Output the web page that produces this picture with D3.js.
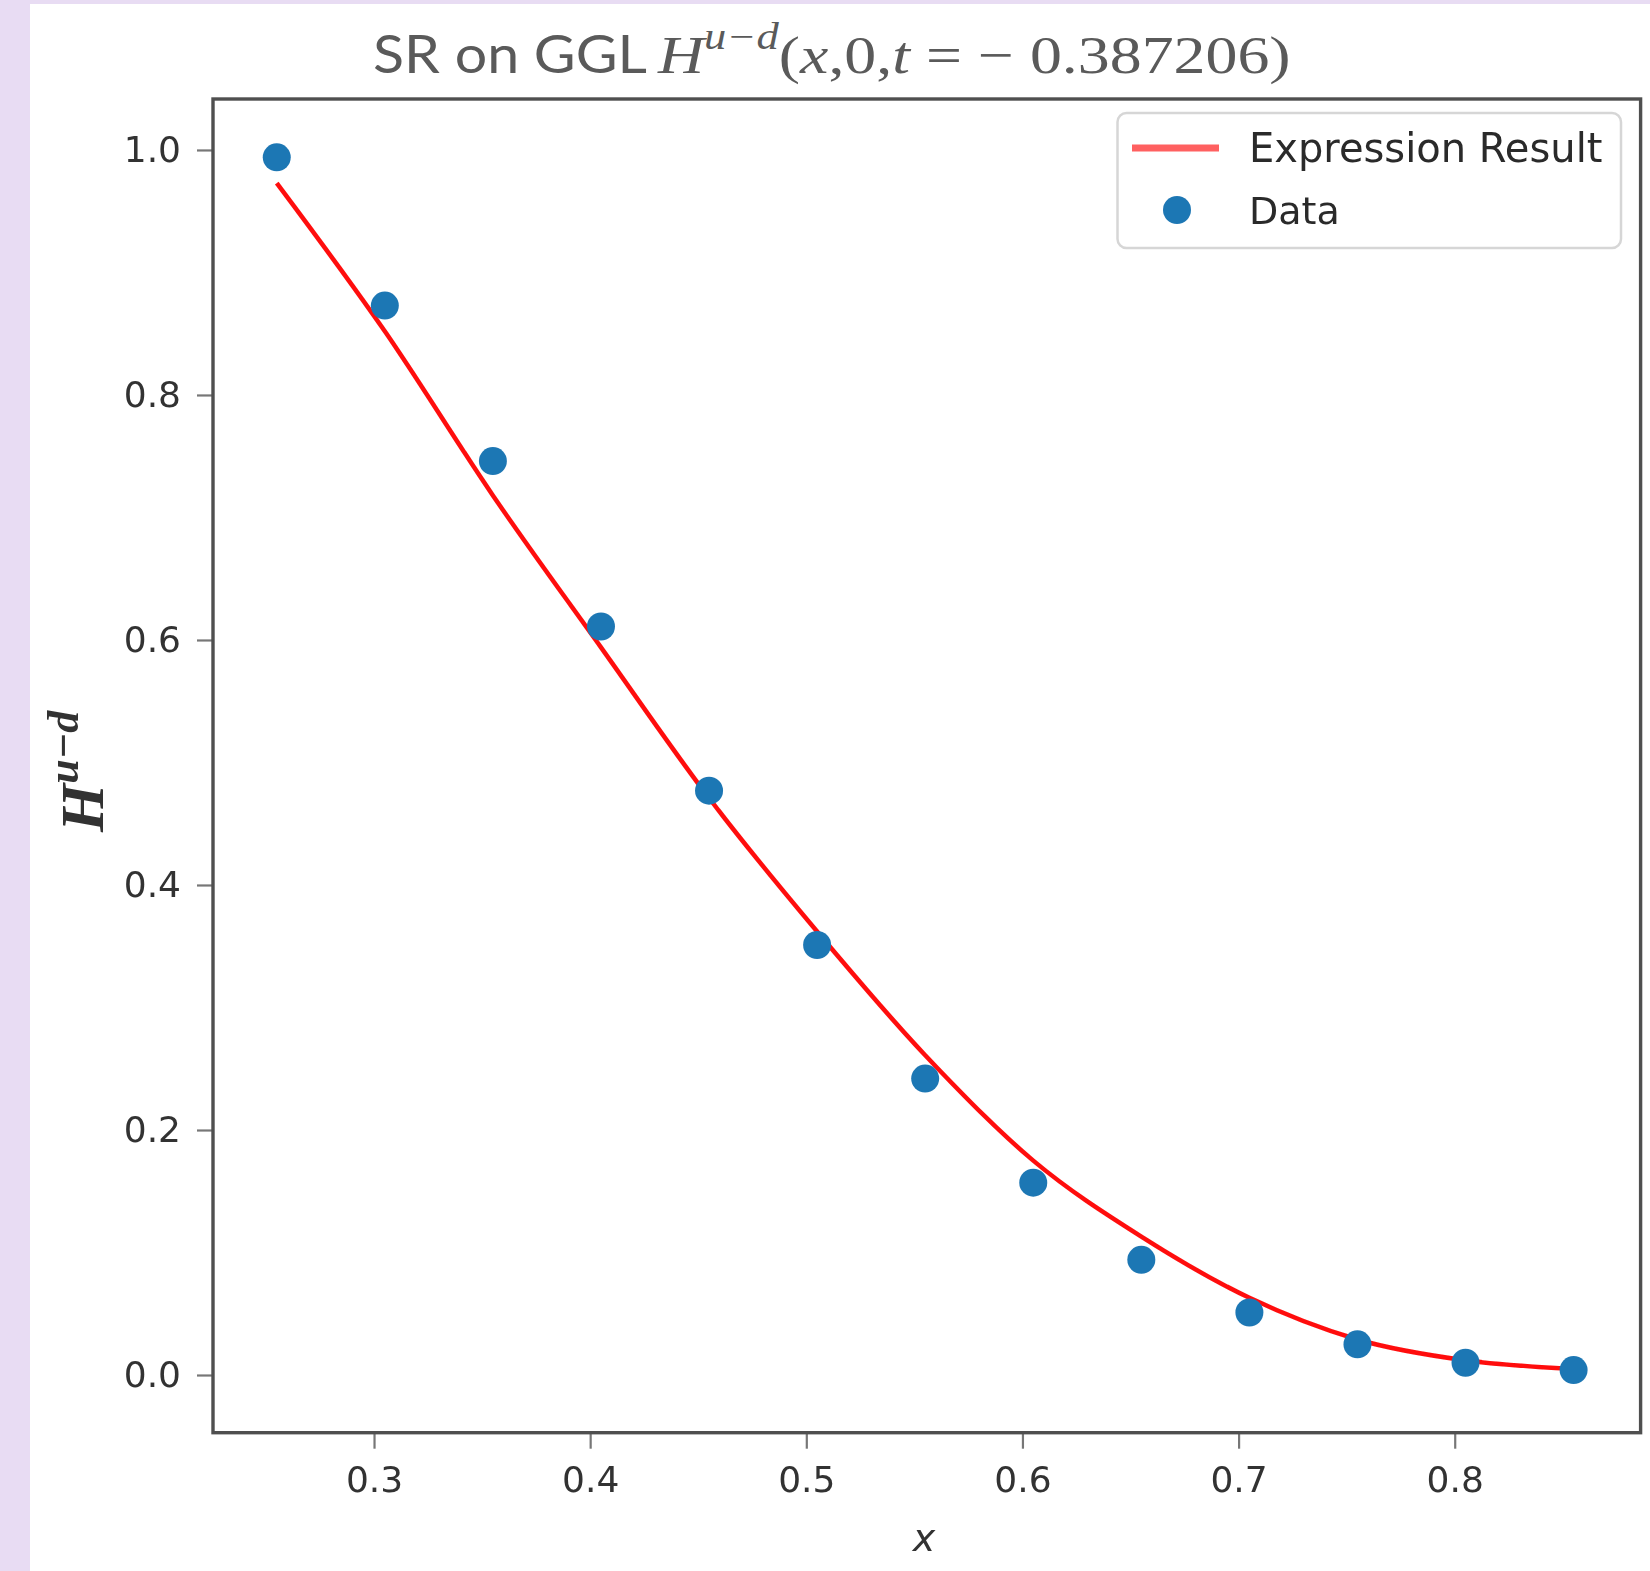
<!DOCTYPE html>
<html>
<head>
<meta charset="utf-8">
<script src="https://cdn.jsdelivr.net/npm/d3@7"></script>
<style>
  html, body { margin: 0; padding: 0; background: #e8dcf3; }
  svg { display: block; }
</style>
</head>
<body>
<svg id="chart" width="1650" height="1571"></svg>
<script>
// ---- data ----
const xValues = [0.255, 0.305, 0.355, 0.405, 0.455, 0.505, 0.555, 0.605, 0.655, 0.705, 0.755, 0.805, 0.855];
const dataValues = [0.994, 0.873, 0.746, 0.611, 0.477, 0.351, 0.242, 0.157, 0.094, 0.051, 0.025, 0.010, 0.004];
const expressionValues = [0.973, 0.852, 0.718, 0.594, 0.471, 0.362, 0.261, 0.175, 0.113, 0.063, 0.029, 0.012, 0.005];
const xTicks = [0.3, 0.4, 0.5, 0.6, 0.7, 0.8];
const yTicks = [0.0, 0.2, 0.4, 0.6, 0.8, 1.0];
const seriesNames = ["Expression Result", "Data"];

const svg = d3.select("#chart");
const defs = svg.append("defs");
defs.append("filter").attr("id", "soft").attr("x", "-5%").attr("y", "-5%").attr("width", "110%").attr("height", "110%")
  .append("feGaussianBlur").attr("stdDeviation", 0.7);

// page background: lavender strips + white card
svg.append("rect").attr("x", 0).attr("y", 0).attr("width", 1650).attr("height", 1571).attr("fill", "#e8dcf3");
svg.append("rect").attr("x", 30).attr("y", 4).attr("width", 1620).attr("height", 1567).attr("fill", "#ffffff");

const chart = svg.append("g").attr("filter", "url(#soft)");

const plot = { left: 213, top: 99, right: 1640.6, bottom: 1432.7 };
const x = d3.scaleLinear().domain([0.2255, 0.886]).range([plot.left, plot.right]);
const y = d3.scaleLinear().domain([-0.0471, 1.0416]).range([plot.bottom, plot.top]);

const axisColor = "#505050";
const textColor = "#333333";

// axes
const xAxis = chart.append("g").attr("transform", `translate(0,${plot.bottom})`)
  .call(d3.axisBottom(x).tickValues(xTicks).tickFormat(d3.format(".1f")).tickSize(16).tickPadding(18));
const yAxis = chart.append("g").attr("transform", `translate(${plot.left},0)`)
  .call(d3.axisLeft(y).tickValues(yTicks).tickFormat(d3.format(".1f")).tickSize(16).tickPadding(16));
[xAxis, yAxis].forEach(g => {
  g.select(".domain").remove();
  g.selectAll(".tick line").attr("stroke", "#777").attr("stroke-width", 2.2);
  g.selectAll(".tick text").attr("fill", textColor)
    .attr("font-family", "DejaVu Sans").attr("font-size", 36);
});
xAxis.selectAll(".tick text").attr("dy", "0.71em");

// line
const line = d3.line().x((d, i) => x(xValues[i])).y(d => y(d)).curve(d3.curveMonotoneX);
chart.append("path").datum(expressionValues)
  .attr("d", line).attr("fill", "none").attr("stroke", "#ff0d0d")
  .attr("stroke-width", 4.5).attr("stroke-linejoin", "round");

// points
chart.append("g").selectAll("circle").data(dataValues).join("circle")
  .attr("cx", (d, i) => x(xValues[i])).attr("cy", d => y(d))
  .attr("r", 14).attr("fill", "#1f77b4");

// frame
chart.append("rect").attr("x", plot.left).attr("y", plot.top)
  .attr("width", plot.right - plot.left).attr("height", plot.bottom - plot.top)
  .attr("fill", "none").attr("stroke", axisColor).attr("stroke-width", 3.4);

// legend
const lg = chart.append("g");
lg.append("rect").attr("x", 1117.5).attr("y", 113).attr("width", 503.5).attr("height", 135)
  .attr("rx", 9).attr("fill", "#ffffff").attr("fill-opacity", 0.85)
  .attr("stroke", "#d6d6d6").attr("stroke-width", 2.5);
lg.append("line").attr("x1", 1132).attr("x2", 1219).attr("y1", 148).attr("y2", 148)
  .attr("stroke", "#ff6060").attr("stroke-width", 7);
lg.append("circle").attr("cx", 1177).attr("cy", 210).attr("r", 14).attr("fill", "#1f77b4");
lg.selectAll("text").data(seriesNames).join("text")
  .attr("x", 1249).attr("y", (d, i) => i === 0 ? 148 : 210).attr("dy", "0.36em")
  .attr("font-family", "DejaVu Sans").attr("font-size", (d, i) => i === 0 ? 40 : 38).attr("fill", "#2a2a2a")
  .text(d => d);

// x label
chart.append("text").attr("x", 924).attr("y", 1540).attr("dy", "0.3em")
  .attr("text-anchor", "middle").attr("font-family", "DejaVu Sans").attr("font-style", "italic")
  .attr("font-size", 38).attr("fill", textColor).text("x");

// y label (rotated)
const yl = chart.append("text").attr("transform", "translate(103,832) rotate(-90)")
  .attr("font-family", "Liberation Serif").attr("font-weight", "bold").attr("font-style", "italic")
  .attr("font-size", 62).attr("fill", "#333");
yl.append("tspan").text("H");
yl.append("tspan").attr("font-size", 44).attr("dy", -25).text("u−d");

// title: sans part and math part, each fitted to its extent in the reference
const titleColor = "#5a5a5a";
function fit(sel, x0, x1) {
  const w = sel.node().getBBox().width;
  const s = (x1 - x0) / w;
  sel.attr("transform", `translate(${x0},0) scale(${s},1) translate(${-x0},0)`);
}
const tSans = svg.append("text").attr("x", 373).attr("y", 73).attr("fill", titleColor)
  .attr("font-family", "Lato").attr("font-size", 53).text("SR on GGL");
fit(tSans, 373, 647);

const serif = "Liberation Serif";
const tMath = svg.append("text").attr("x", 658).attr("y", 73).attr("fill", titleColor)
  .attr("font-family", serif).attr("font-size", 53);
tMath.append("tspan").attr("font-style", "italic").text("H");
tMath.append("tspan").attr("font-style", "italic").attr("font-size", 37).attr("dy", -24).text("u−d");
tMath.append("tspan").attr("dy", 24).text("(");
tMath.append("tspan").attr("font-style", "italic").text("x");
tMath.append("tspan").text(",0,");
tMath.append("tspan").attr("font-style", "italic").text("t");
tMath.append("tspan").text(" = − 0.387206)");
fit(tMath, 658, 1292);
</script>
</body>
</html>
